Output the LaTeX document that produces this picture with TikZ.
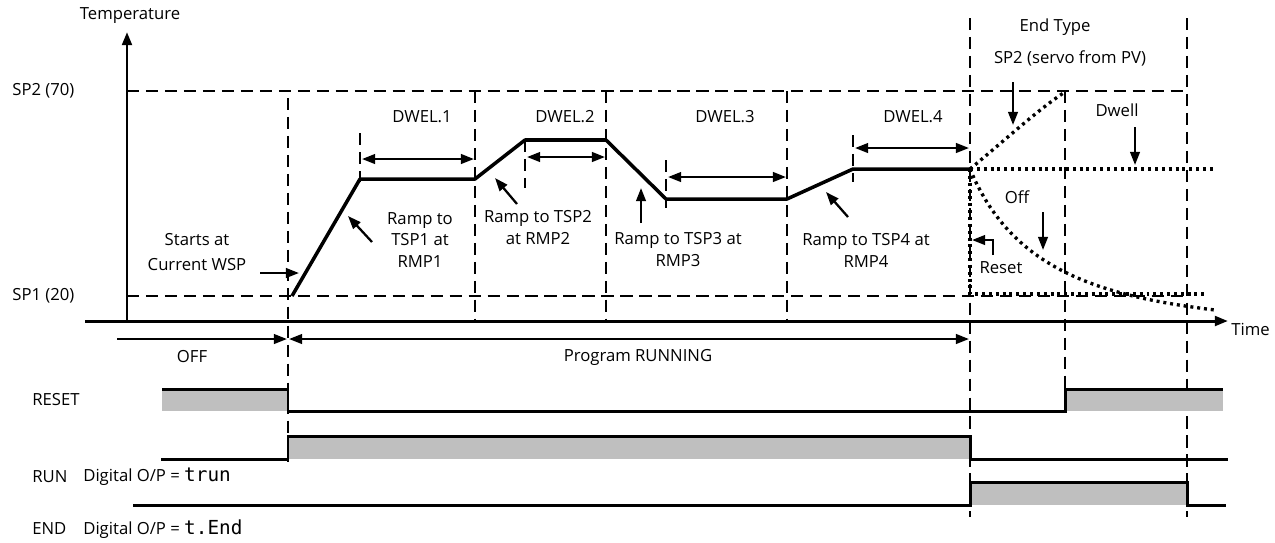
\documentclass[tikz,border=0pt]{standalone}
\usepackage{fontspec}
\setmainfont{Open Sans}
\newfontfamily\segfont{DejaVu Sans Mono}
\usetikzlibrary{arrows.meta}

\begin{document}
\begin{tikzpicture}[x=0.02cm, y=-0.02cm,
  lbl/.style={font=\fontsize{9.5}{12.5}\selectfont, inner sep=0pt, align=center},
  guide/.style={line width=0.9pt, dash pattern=on 7pt off 3.8pt},
  prof/.style={line width=2pt, line join=round},
  dotc/.style={line width=1.9pt, dash pattern=on 1.7pt off 2.2pt},
  sig/.style={line width=1.7pt},
  band/.style={fill=black!25, draw=none},
  ptr/.style={->, line width=1.3pt},
  >={Triangle[length=7.5pt, width=5.5pt]}
]
  \useasboundingbox (0,0) rectangle (1275,542);

  % axes
  \coordinate (O) at (127,321);
  \coordinate (Ytop) at (127,32);
  \coordinate (Xl) at (85,321);
  \coordinate (Xr) at (1228,321);
  \draw[->, line width=1.7pt] (O) -- (Ytop);
  \draw[->, line width=1.7pt] (Xl) -- (Xr);
  \node[lbl] (T) at (130,16) {Temperature};
  \node[lbl, anchor=west] (Tm) at (1231,329) {Time};
  \node[lbl, anchor=west] (SPb) at (12,91) {SP2 (70)};
  \node[lbl, anchor=west] (SPa) at (12,296) {SP1 (20)};

  % guide lines
  \draw[guide] (127,91) -- (1188,91);
  \draw[guide] (127,296) -- (1188,296);
  \draw[guide] (288,98) -- (288,462);
  \draw[guide] (475,91) -- (475,321);
  \draw[guide] (606,91) -- (606,321);
  \draw[guide] (787,91) -- (787,321);
  \draw[guide] (970,18) -- (970,517);
  \draw[guide] (1065,91) -- (1065,412);
  \draw[guide] (1187,18) -- (1187,517);
  \draw[guide] (360,133) -- (360,182);
  \draw[guide] (525,140) -- (525,188);
  \draw[guide] (666,160) -- (666,208);
  \draw[guide] (853,135) -- (853,182);

  % program profile
  \coordinate (P0) at (292,296);
  \coordinate (P1) at (360,179);
  \coordinate (P2) at (475,179);
  \coordinate (P3) at (525,140);
  \coordinate (P4) at (606,140);
  \coordinate (P5) at (666,199);
  \coordinate (P6) at (787,199);
  \coordinate (P7) at (853,169);
  \coordinate (P8) at (970,169);
  \draw[prof] (P0) -- (P1) -- (P2) -- (P3) -- (P4) -- (P5) -- (P6) -- (P7) -- (P8);

  % dwell segments
  \draw[<->, line width=1.3pt] (362,159) -- (474,159);
  \draw[<->, line width=1.3pt] (527,157) -- (605,157);
  \draw[<->, line width=1.3pt] (668,177) -- (786,177);
  \draw[<->, line width=1.3pt] (855,148) -- (969,148);
  \node[lbl] (D1) at (422,117) {DWEL.1};
  \node[lbl] (D2) at (565,117) {DWEL.2};
  \node[lbl] (D3) at (725,117) {DWEL.3};
  \node[lbl] (D4) at (913,117) {DWEL.4};

  % ramps
  \node[lbl] (R1) at (420,240) {Ramp to\\TSP1 at\\RMP1};
  \node[lbl] (R2) at (538,228) {Ramp to TSP2\\at RMP2};
  \node[lbl] (R3) at (678,250) {Ramp to TSP3 at\\RMP3};
  \node[lbl] (R4) at (866,250) {Ramp to TSP4 at\\RMP4};
  \draw[ptr] (372,242) -- (348,216);
  \draw[ptr] (517,204) -- (495,178);
  \draw[ptr] (641,223) -- (641,188);
  \draw[ptr] (848,217) -- (826,192);

  \node[lbl, font=\fontsize{9.5}{14}\selectfont] (S) at (197,252) {Starts at\\Current WSP};
  \draw[ptr] (260,273) -- (299,273);

  % end type
  \node[lbl] (E) at (1055,27) {End Type};
  \node[lbl] (Es) at (1070,58) {SP2 (servo from PV)};
  \draw[ptr] (1013,82) -- (1013,125);
  \draw[dotc] (P8) .. controls (1005,140) and (1040,108) .. (1065,92);
  \node[lbl] (Dw) at (1117,110) {Dwell};
  \draw[ptr] (1135,127) -- (1135,165);
  \draw[dotc] (P8) -- (1215,169);
  \node[lbl] (Of) at (1017,197) {Off};
  \draw[ptr] (1043,212) -- (1043,250);
  \draw[dotc] (P8) .. controls (1010,265) and (1090,295) .. (1215,310);
  \draw[dotc] (P8) -- (970,294) -- (1207,294);
  \node[lbl] (Rs) at (1001,268) {Reset};
  \draw[->, line width=1.3pt] (993,255) -- (993,240) -- (972,240);

  % states
  \draw[->, line width=1.3pt] (117,339) -- (287,339);
  \draw[<->, line width=1.3pt] (289,339) -- (969,339);
  \node[lbl] (Off) at (192,357) {OFF};
  \node[lbl] (Run) at (638,357) {Program RUNNING};

  % RESET
  \node[lbl, anchor=west] (Lr) at (32,400) {RESET};
  \fill[band] (162,389) rectangle (288,411);
  \fill[band] (1065,389) rectangle (1223,411);
  \draw[sig] (162,389) -- (288,389) -- (288,411) -- (1065,411) -- (1065,389) -- (1223,389);

  % RUN
  \fill[band] (288,436) rectangle (970,459);
  \draw[sig] (161,459) -- (288,459) -- (288,436) -- (970,436) -- (970,459) -- (1228,459);
  \node[lbl, anchor=west] (Lu) at (32,477) {RUN};
  \node[lbl, anchor=west] (Lu2) at (83,477) {Digital O/P = {\segfont\fontsize{11}{12}\selectfont trun}};

  % END
  \fill[band] (970,482) rectangle (1187,505);
  \draw[sig] (133,505) -- (970,505) -- (970,482) -- (1187,482) -- (1187,505) -- (1226,505);
  \node[lbl, anchor=west] (Le) at (32,529) {END};
  \node[lbl, anchor=west] (Le2) at (83,529) {Digital O/P = {\segfont\fontsize{11}{12}\selectfont t.End}};
\end{tikzpicture}
\end{document}
